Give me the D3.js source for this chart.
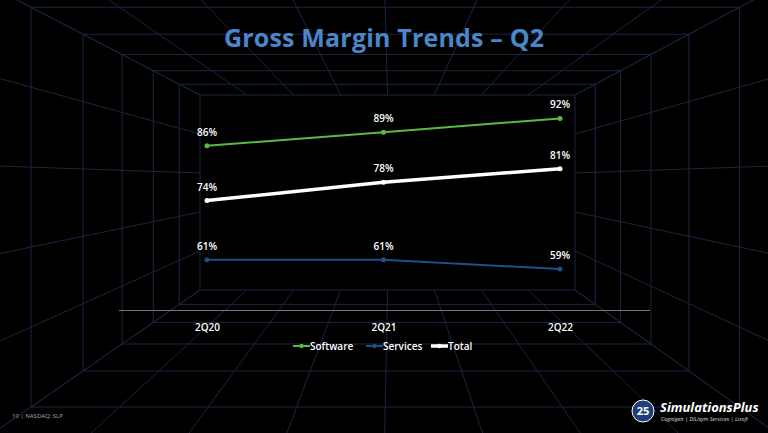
<!DOCTYPE html><html><head><meta charset="utf-8"><script src="https://cdn.jsdelivr.net/npm/d3@7"></script>
<style>body{margin:0;background:#000}svg{display:block;font-family:"Open Sans",Lato,sans-serif}</style></head><body><svg id="c" width="768" height="433"></svg>
<script>
const categories=["2Q20","2Q21","2Q22"];
const software=[86,89,92];
const services=[61,61,59];
const total=[74,78,81];
const seriesNames=["Software","Services","Total"];
const colors=["#5cb840","#1f4e89","#ffffff"];
const widths=[2,2,3.5];
const svg=d3.select("#c");
svg.append("rect").attr("width",768).attr("height",433).attr("fill","#000");
const g=svg.append("g").attr("stroke","#1a2540").attr("stroke-width",1).attr("fill","none");
const inner={x0:200,y0:95,x1:575,y1:290};
const outer={x0:-60,y0:-40,x1:828,y1:470};
const lerp=(a,b,t)=>a+(b-a)*t;
[0,0.08,0.18,0.3,0.45,0.65,1].forEach(k=>{
 g.append("rect").attr("x",lerp(inner.x0,outer.x0,k)).attr("y",lerp(inner.y0,outer.y0,k))
 .attr("width",lerp(inner.x1-inner.x0,outer.x1-outer.x0,k)).attr("height",lerp(inner.y1-inner.y0,outer.y1-outer.y0,k));
});
for(let i=0;i<=8;i++){const t=i/8;
 g.append("line").attr("x1",lerp(inner.x0,inner.x1,t)).attr("y1",inner.y0).attr("x2",lerp(outer.x0,outer.x1,t)).attr("y2",outer.y0);
 g.append("line").attr("x1",lerp(inner.x0,inner.x1,t)).attr("y1",inner.y1).attr("x2",lerp(outer.x0,outer.x1,t)).attr("y2",outer.y1);
}
for(let i=0;i<=5;i++){const t=i/5;
 g.append("line").attr("x1",inner.x0).attr("y1",lerp(inner.y0,inner.y1,t)).attr("x2",outer.x0).attr("y2",lerp(outer.y0,outer.y1,t));
 g.append("line").attr("x1",inner.x1).attr("y1",lerp(inner.y0,inner.y1,t)).attr("x2",outer.x1).attr("y2",lerp(outer.y0,outer.y1,t));
}
svg.append("text").attr("x",384).attr("y",47).attr("text-anchor","middle").attr("fill","#4a86c8").attr("font-size",25).attr("font-weight","bold").attr("textLength",320).text("Gross Margin Trends – Q2");
const x=d3.scalePoint().domain(categories).range([207,560]);
const y=d3.scaleLinear().domain([50,100]).range([310,82]);
const ax=svg.append("g").attr("transform","translate(0,310)").call(d3.axisBottom(x).tickSize(0).tickPadding(14));
ax.select(".domain").attr("stroke","#777").attr("d","M119,0.5H650");
ax.selectAll("text").attr("fill","#fff").attr("font-size",10).attr("font-weight",600).attr("font-family","Open Sans");
const data=[software,services,total];
data.forEach((vals,i)=>{
 const pts=categories.map((c,j)=>[x(c),y(vals[j])]);
 svg.append("path").attr("d",d3.line()(pts)).attr("stroke",colors[i]).attr("stroke-width",widths[i]).attr("fill","none");
 svg.selectAll(null).data(pts).enter().append("circle").attr("cx",d=>d[0]).attr("cy",d=>d[1]).attr("r",2.5).attr("fill",colors[i]);
 svg.selectAll(null).data(pts).enter().append("text").attr("x",d=>d[0]).attr("y",d=>d[1]-10).attr("text-anchor","middle")
  .attr("fill","#fff").attr("font-size",10).attr("font-weight",600).text((d,j)=>vals[j]+"%");
});
const lx=[293,366,431];
seriesNames.forEach((n,i)=>{
 const lg=svg.append("g").attr("transform",`translate(${lx[i]},346)`);
 lg.append("line").attr("x1",0).attr("x2",17).attr("stroke",colors[i]).attr("stroke-width",widths[i]);
 lg.append("circle").attr("cx",8.5).attr("r",2.2).attr("fill",colors[i]);
 lg.append("text").attr("x",17).attr("y",3.5).attr("fill","#fff").attr("font-size",10).attr("font-weight",600).text(n);
});
svg.append("text").attr("x",12).attr("y",418).attr("fill","#aaa").attr("font-size",6).text("10 | NASDAQ: SLP");
const lg=svg.append("g");
lg.append("circle").attr("cx",643).attr("cy",411).attr("r",11).attr("fill","#1f3f7a").attr("stroke","#fff").attr("stroke-width",1);
lg.append("text").attr("x",643).attr("y",415).attr("text-anchor","middle").attr("fill","#fff").attr("font-size",11).attr("font-weight","bold").text("25");
lg.append("text").attr("x",660).attr("y",412).attr("fill","#fff").attr("font-size",13).attr("font-style","italic").attr("font-weight","bold").text("SimulationsPlus");
lg.append("text").attr("x",661).attr("y",421).attr("fill","#ddd").attr("font-size",5.5).attr("font-style","italic").text("Cognigen | DILIsym Services | Lixoft");
</script></body></html>
